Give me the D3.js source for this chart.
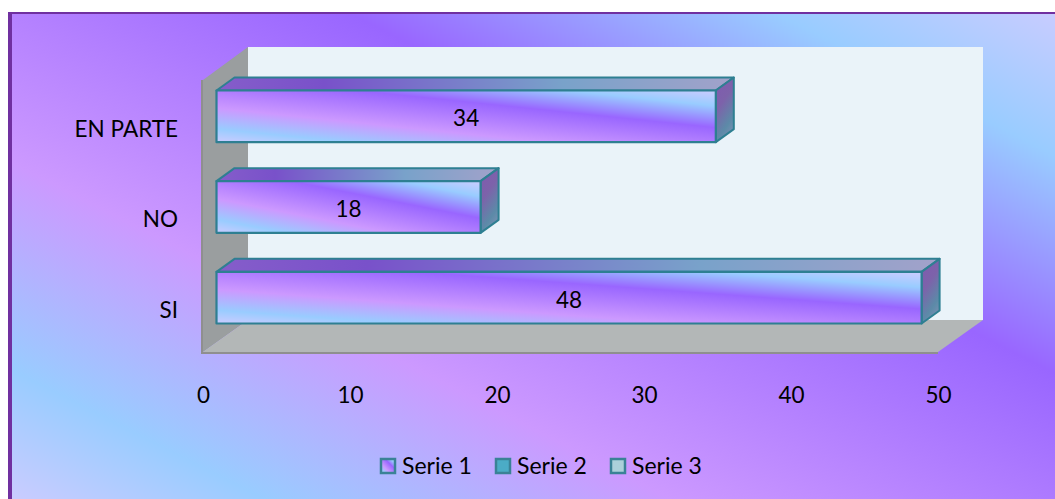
<!DOCTYPE html>
<html>
<head>
<meta charset="utf-8">
<script src="https://d3js.org/d3.v7.min.js"></script>
<style>
  html, body { margin: 0; padding: 0; background: #fff; }
  text { font-family: Lato, "Noto Sans", sans-serif; fill: #000; }
</style>
</head>
<body>
<div id="chart"></div>
<script>
// Chart data
var categories = ["EN PARTE", "NO", "SI"];
var serie1 = [34, 18, 48];
var xTicks = [0, 10, 20, 30, 40, 50];
var seriesNames = ["Serie 1", "Serie 2", "Serie 3"];
var legendFills = ["url(#barFront)", "#4bacc6", "#abd0da"];

// Building the Chart Area
var svgWidth = 1055;
var svgHeight = 499;

var svg = d3.select("#chart")
  .append("svg")
  .attr("width", svgWidth)
  .attr("height", svgHeight)
  .style("display", "block");

// Gradients
var stops = [
  [0, "#ccccff"], [0.15, "#99ccff"], [0.36, "#9966ff"],
  [0.67, "#cc99ff"], [0.87, "#99ccff"], [1, "#ccccff"]
];
var defs = svg.append("defs");

function addGradient(id, x1, y1, x2, y2, units, shade) {
  var g = defs.append("linearGradient")
    .attr("id", id)
    .attr("gradientUnits", units)
    .attr("x1", x1).attr("y1", y1)
    .attr("x2", x2).attr("y2", y2);
  stops.forEach(function(s) {
    g.append("stop")
      .attr("offset", s[0])
      .attr("stop-color", d3.rgb(s[1]).darker(shade).formatHex());
  });
}

addGradient("background", 1055, 0, 635, 823, "userSpaceOnUse", 0);
addGradient("barFront", 1, 0, 0, 1, "objectBoundingBox", 0);
addGradient("barTop", 1, 0, -1.2, 0, "objectBoundingBox", 0.65);

// Side face of the bars, muted purple to teal
var sideGradient = defs.append("linearGradient")
  .attr("id", "barSide")
  .attr("x1", 0.3).attr("y1", 0)
  .attr("x2", 0.7).attr("y2", 1);
sideGradient.append("stop").attr("offset", 0).attr("stop-color", "#7f5cae");
sideGradient.append("stop").attr("offset", 0.35).attr("stop-color", "#7d62aa");
sideGradient.append("stop").attr("offset", 0.75).attr("stop-color", "#5c8aa8");
sideGradient.append("stop").attr("offset", 1).attr("stop-color", "#7c90b4");

// Background
svg.append("rect")
  .attr("x", 10).attr("y", 13)
  .attr("width", svgWidth).attr("height", svgHeight)
  .attr("fill", "url(#background)")
  .attr("stroke", "#7030a0")
  .attr("stroke-width", 2);
svg.append("rect")
  .attr("x", 8).attr("y", 12)
  .attr("width", 4).attr("height", svgHeight)
  .attr("fill", "#7030a0");

// Scales
var depthX = 45;
var depthY = 32;
var barDepthX = 18;
var barDepthY = 13;

var xScale = d3.scaleLinear()
  .domain([0, 50])
  .range([203, 938]);

var yScale = d3.scaleBand()
  .domain(categories)
  .range([80, 352])
  .paddingInner(0.43)
  .paddingOuter(0.215);

var x0 = xScale(0);
var x1 = xScale(50);
var yTop = yScale.range()[0];
var yBottom = yScale.range()[1];

function poly(points, fill, stroke, strokeWidth) {
  return svg.append("polygon")
    .attr("points", points.map(function(p) { return p.join(","); }).join(" "))
    .attr("fill", fill)
    .attr("stroke", stroke || "none")
    .attr("stroke-width", strokeWidth || 0)
    .attr("stroke-linejoin", "round");
}

// Walls and floor
poly([[x0 + depthX, yTop - depthY - 1], [x1 + depthX, yTop - depthY - 1],
      [x1 + depthX, yBottom - depthY], [x0 + depthX, yBottom - depthY]], "#eaf3f9");
poly([[x0, yTop], [x0 + depthX, yTop - depthY - 1],
      [x0 + depthX, yBottom - depthY], [x0, yBottom]], "#9a9e9f");
poly([[x0, yBottom], [x0 + depthX, yBottom - depthY],
      [x1 + depthX, yBottom - depthY], [x1, yBottom]], "#b3b7b7");
svg.append("path")
  .attr("d", `M${x0 - 1},${yTop}V${yBottom + 1}H${x1}`)
  .attr("fill", "none")
  .attr("stroke", "#8f8f8f")
  .attr("stroke-width", 2);

// Bars
categories.forEach(function(cat, i) {
  var left = x0 + (depthX - barDepthX) / 2;
  var right = xScale(serie1[i]) + (depthX - barDepthX) / 2 - 0.5;
  var top = yScale(cat) - 9;
  var bottom = top + yScale.bandwidth();

  poly([[left, top], [left + barDepthX, top - barDepthY],
        [right + barDepthX, top - barDepthY], [right, top]], "url(#barTop)", "#2e7f92", 2);
  poly([[right, top], [right + barDepthX, top - barDepthY],
        [right + barDepthX, bottom - barDepthY], [right, bottom]], "url(#barSide)", "#2e7f92", 2);
  poly([[left, top], [right, top], [right, bottom], [left, bottom]], "url(#barFront)", "#2e7f92", 2.2);

  svg.append("text")
    .attr("x", (left + right) / 2)
    .attr("y", (top + bottom) / 2 + 2)
    .attr("dy", "0.35em")
    .attr("text-anchor", "middle")
    .attr("font-size", 22.5)
    .text(serie1[i]);
});

// Axes
var bottomAxis = d3.axisBottom(xScale)
  .tickValues(xTicks)
  .tickSize(0)
  .tickPadding(0);

var xAxisGroup = svg.append("g")
  .attr("transform", "translate(0, 387)")
  .call(bottomAxis);
xAxisGroup.select(".domain").remove();
xAxisGroup.selectAll("text")
  .style("font-family", "Lato, 'Noto Sans', sans-serif")
  .style("font-size", "22.5px");

var leftAxis = d3.axisLeft(yScale)
  .tickSize(0)
  .tickPadding(0);

var yAxisGroup = svg.append("g")
  .attr("transform", "translate(178, 4)")
  .call(leftAxis);
yAxisGroup.select(".domain").remove();
yAxisGroup.selectAll("text")
  .style("font-family", "Lato, 'Noto Sans', sans-serif")
  .style("font-size", "22.5px");

// Legend
var legendX = d3.scaleOrdinal()
  .domain(seriesNames)
  .range([381, 496, 611]);

var legend = svg.selectAll(".legend")
  .data(seriesNames)
  .enter()
  .append("g")
  .attr("class", "legend")
  .attr("transform", d => `translate(${legendX(d)}, 459)`);

legend.append("rect")
  .attr("width", 14)
  .attr("height", 14)
  .attr("fill", (d, i) => legendFills[i])
  .attr("stroke", "#3a8296")
  .attr("stroke-width", 2.5);

legend.append("text")
  .attr("x", 21)
  .attr("y", 7)
  .attr("dy", "0.35em")
  .attr("font-size", 23)
  .text(d => d);
</script>
</body>
</html>
